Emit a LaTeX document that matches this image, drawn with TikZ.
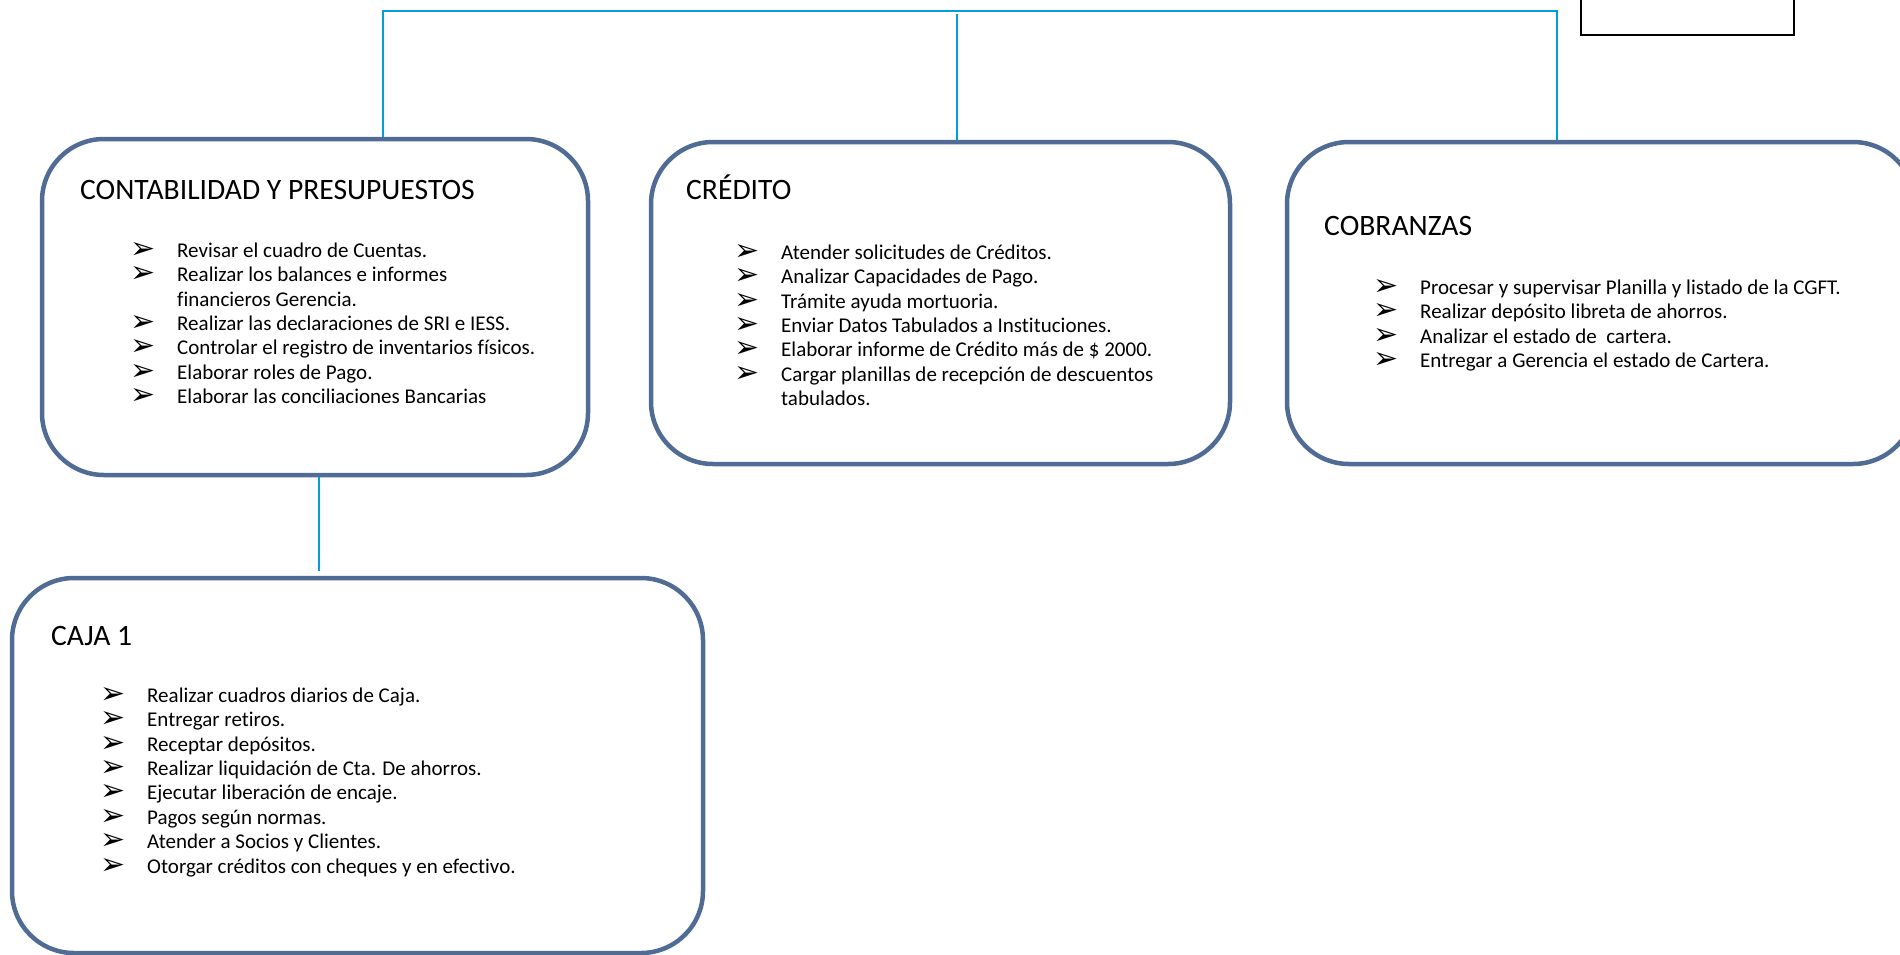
\documentclass[tikz,border=0pt]{standalone}
\usepackage{fontspec}
\setmainfont{Carlito}[Ligatures=NoCommon]
\newfontfamily\flecha{DejaVu Sans}
\usetikzlibrary{positioning}

\definecolor{areaborde}{RGB}{80,108,148}
\definecolor{enlaceazul}{RGB}{0,158,219}

\newcommand{\vin}{\makebox[47pt][l]{\smash{\raisebox{-1pt}{\flecha\fontsize{30}{30}\selectfont ➢}}}}
\newcommand{\sinvin}{\hspace*{47pt}}

\begin{document}
\begin{tikzpicture}[
  x=1pt, y=-1pt,
    every node/.style={font=\fontsize{21}{24.4}\selectfont},
    area/.style={rectangle, rounded corners=62pt, draw=areaborde, line width=4.5pt, fill=white},
    jefe/.style={rectangle, draw=black, line width=2pt, minimum width=213pt, minimum height=40pt},
    titulo/.style={anchor=base west, inner sep=0pt, font=\fontsize{29.6}{35}\selectfont},
    lista/.style={anchor=north west, align=left, inner sep=0pt},
    enlace/.style={draw=enlaceazul, line width=2pt}
]
\useasboundingbox (0,0) rectangle (1900,954);

% Areas
\node (contab) [area, minimum width=546pt, minimum height=336pt] at (315,307) {};
\node (credito) [area, minimum width=579pt, minimum height=322pt] at (940.5,303) {};
\node (cobranzas) [area, minimum width=628pt, minimum height=322pt] at (1601,303) {};
\node (caja) [area, minimum width=691pt, minimum height=375pt] at (357.5,765.5) {};
\node (gerencia) [jefe] at (1687.5,15) {};

% Titles
\node (contab_tit) [titulo] at (80,199.5) {CONTABILIDAD Y PRESUPUESTOS};
\node (credito_tit) [titulo] at (686,199.5) {CRÉDITO};
\node (cobranzas_tit) [titulo] at (1324,235) {COBRANZAS};
\node (caja_tit) [titulo] at (51,645) {CAJA 1};

% Functions
\node (contab_lis) [lista] at (130,242.5) {\vin Revisar el cuadro de Cuentas.\\
  \vin Realizar los balances e informes\\
  \sinvin financieros Gerencia.\\
  \vin Realizar las declaraciones de SRI e IESS.\\
  \vin Controlar el registro de inventarios físicos.\\
  \vin Elaborar roles de Pago.\\
  \vin Elaborar las conciliaciones Bancarias};
\node (credito_lis) [lista] at (734,244.5) {\vin Atender solicitudes de Créditos.\\
  \vin Analizar Capacidades de Pago.\\
  \vin Trámite ayuda mortuoria.\\
  \vin Enviar Datos Tabulados a Instituciones.\\
  \vin Elaborar informe de Crédito más de \$ 2000.\\
  \vin Cargar planillas de recepción de descuentos\\
  \sinvin tabulados.};
\node (cobranzas_lis) [lista] at (1373,279.5) {\vin Procesar y supervisar Planilla y listado de la CGFT.\\
  \vin Realizar depósito libreta de ahorros.\\
  \vin Analizar el estado de\ \ cartera.\\
  \vin Entregar a Gerencia el estado de Cartera.};
\node (caja_lis) [lista] at (100,687.5) {\vin Realizar cuadros diarios de Caja.\\
  \vin Entregar retiros.\\
  \vin Receptar depósitos.\\
  \vin Realizar liquidación de Cta. De ahorros.\\
  \vin Ejecutar liberación de encaje.\\
  \vin Pagos según normas.\\
  \vin Atender a Socios y Clientes.\\
  \vin Otorgar créditos con cheques y en efectivo.};

% Connectors
\coordinate (bus_izq) at (383,11);
\coordinate (bus_med) at (957,14);
\coordinate (bus_der) at (1557,11);
\coordinate (bajada) at (319,0);
\draw [enlace] (bus_izq |- contab.north) -- (bus_izq) -- (bus_der) -- (bus_der |- cobranzas.north);
\draw [enlace] (bus_med) -- (bus_med |- credito.north);
\draw [enlace, shorten >=5pt] (bajada |- contab.south) -- (bajada |- caja.north);

\end{tikzpicture}
\end{document}
